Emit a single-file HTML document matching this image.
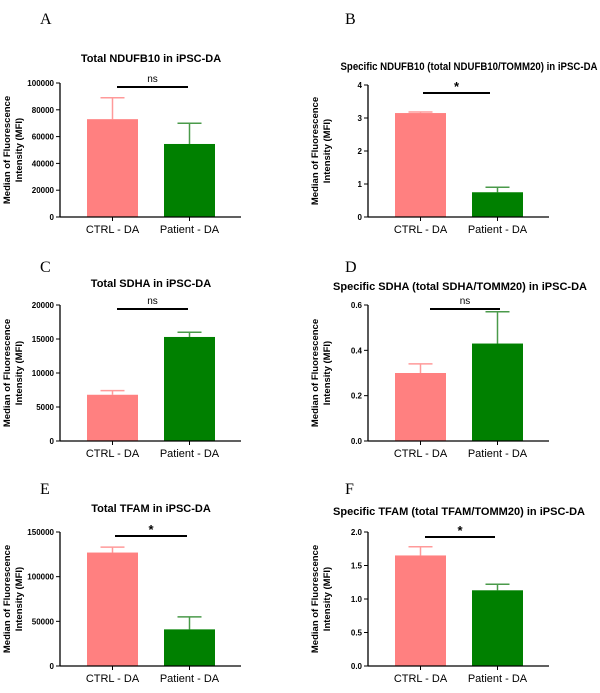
<!DOCTYPE html>
<html><head><meta charset="utf-8"><style>
body{margin:0;background:#fff}
svg{display:block}
text{font-family:"Liberation Sans",Arial,sans-serif}
.pl{font-family:"Liberation Serif",serif;font-size:16px}
</style></head><body>
<svg id="s" width="600" height="693"></svg>
<script>
const categories=["CTRL - DA","Patient - DA"];
const aMeans=[73000,54500], aErr=[89000,70000], aTicks=[0,20000,40000,60000,80000,100000];
const bMeans=[3.15,0.75], bErr=[3.18,0.9], bTicks=[0,1,2,3,4];
const cMeans=[6800,15300], cErr=[7400,16000], cTicks=[0,5000,10000,15000,20000];
const dMeans=[0.3,0.43], dErr=[0.34,0.57], dTicks=["0.0","0.2","0.4","0.6"];
const eMeans=[127000,41000], eErr=[133000,55000], eTicks=[0,50000,100000,150000];
const fMeans=[1.65,1.13], fErr=[1.78,1.22], fTicks=["0.0","0.5","1.0","1.5","2.0"];
const titles=["Total NDUFB10 in iPSC-DA","Specific NDUFB10 (total NDUFB10/TOMM20) in iPSC-DA","Total SDHA in iPSC-DA","Specific SDHA (total SDHA/TOMM20) in iPSC-DA","Total TFAM in iPSC-DA","Specific TFAM (total TFAM/TOMM20)  in iPSC-DA"];
const sig=["ns","*","ns","ns","*","*"];
const letters=["A","B","C","D","E","F"];
const S=document.getElementById('s');const NS="http://www.w3.org/2000/svg";
function mk(t,a,p){const e=document.createElementNS(NS,t);for(const k in a)e.setAttribute(k,a[k]);(p||S).appendChild(e);return e;}
const panels=[
 {m:aMeans,e:aErr,t:aTicks,ax:60,top:83,bot:217,ty:62,tx:151,tl:0,sy:87,sx:[117,188],lx:40,ly:24},
 {m:bMeans,e:bErr,t:bTicks,ax:368,top:85,bot:217,ty:70,tx:469,tl:257,sy:93,sx:[423,490],lx:345,ly:24},
 {m:cMeans,e:cErr,t:cTicks,ax:60,top:305,bot:441,ty:287,tx:151,tl:0,sy:309,sx:[117,188],lx:40,ly:272},
 {m:dMeans,e:dErr,t:dTicks,ax:368,top:305,bot:441,ty:290,tx:460,tl:254,sy:309,sx:[430,500],lx:345,ly:272},
 {m:eMeans,e:eErr,t:eTicks,ax:60,top:532,bot:666,ty:512,tx:151,tl:0,sy:536,sx:[115,187],lx:40,ly:494},
 {m:fMeans,e:fErr,t:fTicks,ax:368,top:532,bot:666,ty:515,tx:459,tl:252,sy:537,sx:[425,495],lx:345,ly:494}
];
const fill=["#ff8080","#008000"], errc=["#ff9a9a","#4a9a4a"];
panels.forEach((p,i)=>{
 const g=mk('g',{});
 const mx=parseFloat(p.t[p.t.length-1]);
 const y=v=>p.bot-(v/mx)*(p.bot-p.top);
 const xs=[p.ax+27,p.ax+104], bw=51;
 const pl=mk('text',{x:p.lx,y:p.ly,class:'pl'},g);pl.textContent=letters[i];
 
 const ta={x:p.tx,y:p.ty,'text-anchor':'middle','font-size':'11','font-weight':'bold'};
 if(p.tl){ta.textLength=p.tl;ta.lengthAdjust='spacingAndGlyphs';}
 const tt=mk('text',ta,g);tt.textContent=titles[i];
 
 const yt=mk('text',{transform:`translate(${p.ax-50},${(p.top+p.bot)/2}) rotate(-90)`,'text-anchor':'middle','font-size':'9.5','font-weight':'bold'},g);
 
 const t1=mk('tspan',{x:0,y:0},yt);t1.textContent="Median of Fluorescence";
 const t2=mk('tspan',{x:0,y:12},yt);t2.textContent="Intensity (MFI)";
 p.m.forEach((v,j)=>{
  const cx=xs[j]+bw/2;
  const el=mk('line',{x1:cx,x2:cx,y1:y(v),y2:y(p.e[j]),stroke:errc[j],'stroke-width':1.5},g);
  
  const ec=mk('line',{x1:cx-12,x2:cx+12,y1:y(p.e[j]),y2:y(p.e[j]),stroke:errc[j],'stroke-width':1.5},g);
  
  const r=mk('rect',{x:xs[j],y:y(v),width:bw,height:p.bot-y(v),fill:fill[j]},g);
  
  mk('line',{x1:cx,x2:cx,y1:p.bot,y2:p.bot+4,stroke:'#000'},g);
  const cl=mk('text',{x:cx,y:p.bot+16,'text-anchor':'middle','font-size':'11'},g);cl.textContent=categories[j];
  
 });
 const ya=mk('line',{x1:p.ax,x2:p.ax,y1:p.top,y2:p.bot,stroke:'#000','stroke-width':1.3},g);
 
 const xa=mk('line',{x1:p.ax,x2:p.ax+181,y1:p.bot,y2:p.bot,stroke:'#000','stroke-width':1.3},g);
 
 p.t.forEach(t=>{
  const yy=y(parseFloat(t));
  mk('line',{x1:p.ax-4,x2:p.ax,y1:yy,y2:yy,stroke:'#000'},g);
  const tl=mk('text',{x:p.ax-6,y:yy+3,'text-anchor':'end','font-size':'8','font-weight':'bold'},g);tl.textContent=t;
  
 });
 const sb=mk('line',{x1:p.sx[0],x2:p.sx[1],y1:p.sy,y2:p.sy,stroke:'#000','stroke-width':2},g);
 
 const isStar=sig[i]=="*";
 const st=mk('text',{x:(p.sx[0]+p.sx[1])/2,y:isStar?p.sy-2:p.sy-5,'text-anchor':'middle','font-size':isStar?'13':'10','font-weight':isStar?'bold':'normal'},g);
 st.textContent=sig[i];
 
});
</script>
</body></html>
